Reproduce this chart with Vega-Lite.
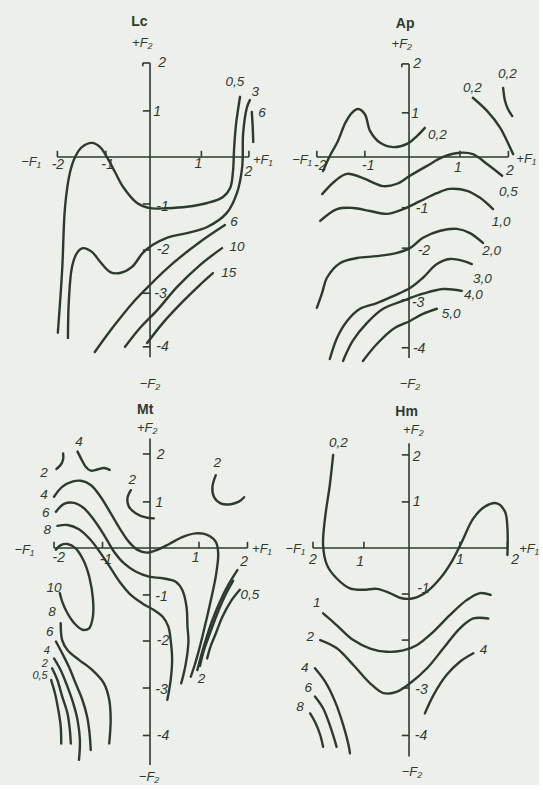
{
"$schema": "https://vega.github.io/schema/vega-lite/v6.json",
"background": "#ecefea",
"padding": 0,
"spacing": 0,
"bounds": "flush",
"config": {"view": {"stroke": null}, "facet": {"spacing": 0}, "header": {"labels": false, "title": null, "labelPadding": 0, "titlePadding": 0}},
"data": {"values": [
{"p":"Lc","k":"l","c":"a","o":1,"x":-1.92,"y":-3.74},
{"p":"Lc","k":"l","c":"a","o":2,"x":-1.83,"y":-2.40},
{"p":"Lc","k":"l","c":"a","o":3,"x":-1.77,"y":-1.06},
{"p":"Lc","k":"l","c":"a","o":4,"x":-1.67,"y":-0.34},
{"p":"Lc","k":"l","c":"a","o":5,"x":-1.56,"y":0},
{"p":"Lc","k":"l","c":"a","o":6,"x":-1.42,"y":0.21},
{"p":"Lc","k":"l","c":"a","o":7,"x":-1.21,"y":0.30},
{"p":"Lc","k":"l","c":"a","o":8,"x":-1.04,"y":0.21},
{"p":"Lc","k":"l","c":"a","o":9,"x":-0.90,"y":0},
{"p":"Lc","k":"l","c":"a","o":10,"x":-0.73,"y":-0.32},
{"p":"Lc","k":"l","c":"a","o":11,"x":-0.56,"y":-0.64},
{"p":"Lc","k":"l","c":"a","o":12,"x":-0.27,"y":-0.98},
{"p":"Lc","k":"l","c":"a","o":13,"x":0,"y":-1.09},
{"p":"Lc","k":"l","c":"a","o":14,"x":0.35,"y":-1.09},
{"p":"Lc","k":"l","c":"a","o":15,"x":0.77,"y":-1.06},
{"p":"Lc","k":"l","c":"a","o":16,"x":1.19,"y":-0.98},
{"p":"Lc","k":"l","c":"a","o":17,"x":1.52,"y":-0.85},
{"p":"Lc","k":"l","c":"a","o":18,"x":1.67,"y":-0.66},
{"p":"Lc","k":"l","c":"a","o":19,"x":1.73,"y":-0.28},
{"p":"Lc","k":"l","c":"a","o":20,"x":1.75,"y":0.15},
{"p":"Lc","k":"l","c":"a","o":21,"x":1.79,"y":0.68},
{"p":"Lc","k":"l","c":"a","o":22,"x":1.875,"y":1.28},
{"p":"Lc","k":"l","c":"b","o":1,"x":-1.71,"y":-3.85},
{"p":"Lc","k":"l","c":"b","o":2,"x":-1.69,"y":-3.04},
{"p":"Lc","k":"l","c":"b","o":3,"x":-1.625,"y":-2.34},
{"p":"Lc","k":"l","c":"b","o":4,"x":-1.52,"y":-2.04},
{"p":"Lc","k":"l","c":"b","o":5,"x":-1.40,"y":-1.94},
{"p":"Lc","k":"l","c":"b","o":6,"x":-1.21,"y":-2.02},
{"p":"Lc","k":"l","c":"b","o":7,"x":-1.04,"y":-2.23},
{"p":"Lc","k":"l","c":"b","o":8,"x":-0.83,"y":-2.45},
{"p":"Lc","k":"l","c":"b","o":9,"x":-0.625,"y":-2.47},
{"p":"Lc","k":"l","c":"b","o":10,"x":-0.375,"y":-2.34},
{"p":"Lc","k":"l","c":"b","o":11,"x":-0.15,"y":-2.04},
{"p":"Lc","k":"l","c":"b","o":12,"x":0.06,"y":-1.87},
{"p":"Lc","k":"l","c":"b","o":13,"x":0.35,"y":-1.72},
{"p":"Lc","k":"l","c":"b","o":14,"x":0.77,"y":-1.62},
{"p":"Lc","k":"l","c":"b","o":15,"x":1.19,"y":-1.49},
{"p":"Lc","k":"l","c":"b","o":16,"x":1.60,"y":-1.19},
{"p":"Lc","k":"l","c":"b","o":17,"x":1.81,"y":-0.77},
{"p":"Lc","k":"l","c":"b","o":18,"x":1.92,"y":-0.21},
{"p":"Lc","k":"l","c":"b","o":19,"x":1.94,"y":0.51},
{"p":"Lc","k":"l","c":"b","o":20,"x":2.02,"y":1.06},
{"p":"Lc","k":"l","c":"b","o":21,"x":2.08,"y":1.21},
{"p":"Lc","k":"l","c":"c","o":1,"x":2.12,"y":0.96},
{"p":"Lc","k":"l","c":"c","o":2,"x":2.14,"y":0.62},
{"p":"Lc","k":"l","c":"c","o":3,"x":2.15,"y":0.32},
{"p":"Lc","k":"l","c":"d","o":1,"x":-1.15,"y":-4.15},
{"p":"Lc","k":"l","c":"d","o":2,"x":-0.77,"y":-3.62},
{"p":"Lc","k":"l","c":"d","o":3,"x":-0.35,"y":-3.09},
{"p":"Lc","k":"l","c":"d","o":4,"x":0,"y":-2.72},
{"p":"Lc","k":"l","c":"d","o":5,"x":0.48,"y":-2.26},
{"p":"Lc","k":"l","c":"d","o":6,"x":1.04,"y":-1.81},
{"p":"Lc","k":"l","c":"d","o":7,"x":1.56,"y":-1.45},
{"p":"Lc","k":"l","c":"e","o":1,"x":-0.52,"y":-4.04},
{"p":"Lc","k":"l","c":"e","o":2,"x":-0.21,"y":-3.64},
{"p":"Lc","k":"l","c":"e","o":3,"x":0.15,"y":-3.26},
{"p":"Lc","k":"l","c":"e","o":4,"x":0.56,"y":-2.77},
{"p":"Lc","k":"l","c":"e","o":5,"x":1.04,"y":-2.30},
{"p":"Lc","k":"l","c":"e","o":6,"x":1.5,"y":-1.94},
{"p":"Lc","k":"l","c":"f","o":1,"x":-0.06,"y":-3.96},
{"p":"Lc","k":"l","c":"f","o":2,"x":0.27,"y":-3.53},
{"p":"Lc","k":"l","c":"f","o":3,"x":0.67,"y":-3.09},
{"p":"Lc","k":"l","c":"f","o":4,"x":1.04,"y":-2.72},
{"p":"Lc","k":"l","c":"f","o":5,"x":1.31,"y":-2.47},

{"p":"Ap","k":"l","c":"a","o":1,"x":-1.79,"y":-0.30},
{"p":"Ap","k":"l","c":"a","o":2,"x":-1.65,"y":0.02},
{"p":"Ap","k":"l","c":"a","o":3,"x":-1.48,"y":0.34},
{"p":"Ap","k":"l","c":"a","o":4,"x":-1.33,"y":0.72},
{"p":"Ap","k":"l","c":"a","o":5,"x":-1.19,"y":0.94},
{"p":"Ap","k":"l","c":"a","o":6,"x":-1.06,"y":1.02},
{"p":"Ap","k":"l","c":"a","o":7,"x":-0.92,"y":0.91},
{"p":"Ap","k":"l","c":"a","o":8,"x":-0.81,"y":0.55},
{"p":"Ap","k":"l","c":"a","o":9,"x":-0.60,"y":0.30},
{"p":"Ap","k":"l","c":"a","o":10,"x":-0.33,"y":0.21},
{"p":"Ap","k":"l","c":"a","o":11,"x":-0.04,"y":0.28},
{"p":"Ap","k":"l","c":"a","o":12,"x":0.17,"y":0.45},
{"p":"Ap","k":"l","c":"a","o":13,"x":0.33,"y":0.62},
{"p":"Ap","k":"l","c":"b","o":1,"x":1.33,"y":1.26},
{"p":"Ap","k":"l","c":"b","o":2,"x":1.625,"y":0.98},
{"p":"Ap","k":"l","c":"b","o":3,"x":1.90,"y":0.62},
{"p":"Ap","k":"l","c":"b","o":4,"x":2.04,"y":0.34},
{"p":"Ap","k":"l","c":"b","o":5,"x":2.17,"y":0.06},
{"p":"Ap","k":"l","c":"c","o":1,"x":1.96,"y":1.47},
{"p":"Ap","k":"l","c":"c","o":2,"x":2.0,"y":1.19},
{"p":"Ap","k":"l","c":"c","o":3,"x":2.06,"y":1.02},
{"p":"Ap","k":"l","c":"c","o":4,"x":2.15,"y":0.87},
{"p":"Ap","k":"l","c":"d","o":1,"x":-1.81,"y":-0.79},
{"p":"Ap","k":"l","c":"d","o":2,"x":-1.54,"y":-0.51},
{"p":"Ap","k":"l","c":"d","o":3,"x":-1.29,"y":-0.36},
{"p":"Ap","k":"l","c":"d","o":4,"x":-0.96,"y":-0.45},
{"p":"Ap","k":"l","c":"d","o":5,"x":-0.54,"y":-0.62},
{"p":"Ap","k":"l","c":"d","o":6,"x":-0.25,"y":-0.57},
{"p":"Ap","k":"l","c":"d","o":7,"x":0.02,"y":-0.40},
{"p":"Ap","k":"l","c":"d","o":8,"x":0.375,"y":-0.19},
{"p":"Ap","k":"l","c":"d","o":9,"x":0.71,"y":0},
{"p":"Ap","k":"l","c":"d","o":10,"x":1.06,"y":0.09},
{"p":"Ap","k":"l","c":"d","o":11,"x":1.33,"y":0.06},
{"p":"Ap","k":"l","c":"d","o":12,"x":1.625,"y":-0.15},
{"p":"Ap","k":"l","c":"d","o":13,"x":1.94,"y":-0.40},
{"p":"Ap","k":"l","c":"e","o":1,"x":-1.85,"y":-1.36},
{"p":"Ap","k":"l","c":"e","o":2,"x":-1.5,"y":-1.11},
{"p":"Ap","k":"l","c":"e","o":3,"x":-1.17,"y":-1.085},
{"p":"Ap","k":"l","c":"e","o":4,"x":-0.81,"y":-1.15},
{"p":"Ap","k":"l","c":"e","o":5,"x":-0.46,"y":-1.21},
{"p":"Ap","k":"l","c":"e","o":6,"x":-0.125,"y":-1.11},
{"p":"Ap","k":"l","c":"e","o":7,"x":0.23,"y":-0.94},
{"p":"Ap","k":"l","c":"e","o":8,"x":0.58,"y":-0.77},
{"p":"Ap","k":"l","c":"e","o":9,"x":0.85,"y":-0.68},
{"p":"Ap","k":"l","c":"e","o":10,"x":1.21,"y":-0.72},
{"p":"Ap","k":"l","c":"e","o":11,"x":1.48,"y":-0.87},
{"p":"Ap","k":"l","c":"e","o":12,"x":1.75,"y":-1.11},
{"p":"Ap","k":"l","c":"f","o":1,"x":-1.92,"y":-3.21},
{"p":"Ap","k":"l","c":"f","o":2,"x":-1.81,"y":-2.89},
{"p":"Ap","k":"l","c":"f","o":3,"x":-1.71,"y":-2.57},
{"p":"Ap","k":"l","c":"f","o":4,"x":-1.44,"y":-2.26},
{"p":"Ap","k":"l","c":"f","o":5,"x":-1.08,"y":-2.15},
{"p":"Ap","k":"l","c":"f","o":6,"x":-0.67,"y":-2.11},
{"p":"Ap","k":"l","c":"f","o":7,"x":-0.25,"y":-2.04},
{"p":"Ap","k":"l","c":"f","o":8,"x":0.02,"y":-1.94},
{"p":"Ap","k":"l","c":"f","o":9,"x":0.29,"y":-1.72},
{"p":"Ap","k":"l","c":"f","o":10,"x":0.65,"y":-1.57},
{"p":"Ap","k":"l","c":"f","o":11,"x":1.0,"y":-1.53},
{"p":"Ap","k":"l","c":"f","o":12,"x":1.27,"y":-1.62},
{"p":"Ap","k":"l","c":"f","o":13,"x":1.54,"y":-1.83},
{"p":"Ap","k":"l","c":"g","o":1,"x":-1.65,"y":-4.30},
{"p":"Ap","k":"l","c":"g","o":2,"x":-1.5,"y":-3.85},
{"p":"Ap","k":"l","c":"g","o":3,"x":-1.29,"y":-3.49},
{"p":"Ap","k":"l","c":"g","o":4,"x":-1.02,"y":-3.23},
{"p":"Ap","k":"l","c":"g","o":5,"x":-0.67,"y":-3.11},
{"p":"Ap","k":"l","c":"g","o":6,"x":-0.33,"y":-2.96},
{"p":"Ap","k":"l","c":"g","o":7,"x":0.02,"y":-2.79},
{"p":"Ap","k":"l","c":"g","o":8,"x":0.29,"y":-2.57},
{"p":"Ap","k":"l","c":"g","o":9,"x":0.58,"y":-2.28},
{"p":"Ap","k":"l","c":"g","o":10,"x":0.85,"y":-2.17},
{"p":"Ap","k":"l","c":"g","o":11,"x":1.125,"y":-2.21},
{"p":"Ap","k":"l","c":"g","o":12,"x":1.31,"y":-2.28},
{"p":"Ap","k":"l","c":"h","o":1,"x":-1.375,"y":-4.34},
{"p":"Ap","k":"l","c":"h","o":2,"x":-1.17,"y":-3.91},
{"p":"Ap","k":"l","c":"h","o":3,"x":-0.875,"y":-3.53},
{"p":"Ap","k":"l","c":"h","o":4,"x":-0.54,"y":-3.23},
{"p":"Ap","k":"l","c":"h","o":5,"x":-0.125,"y":-3.06},
{"p":"Ap","k":"l","c":"h","o":6,"x":0.29,"y":-2.91},
{"p":"Ap","k":"l","c":"h","o":7,"x":0.71,"y":-2.81},
{"p":"Ap","k":"l","c":"h","o":8,"x":1.10,"y":-2.85},
{"p":"Ap","k":"l","c":"i","o":1,"x":-0.96,"y":-4.34},
{"p":"Ap","k":"l","c":"i","o":2,"x":-0.67,"y":-3.98},
{"p":"Ap","k":"l","c":"i","o":3,"x":-0.33,"y":-3.66},
{"p":"Ap","k":"l","c":"i","o":4,"x":0.02,"y":-3.49},
{"p":"Ap","k":"l","c":"i","o":5,"x":0.29,"y":-3.34},
{"p":"Ap","k":"l","c":"i","o":6,"x":0.58,"y":-3.23},

{"p":"Mt","k":"l","c":"a","o":1,"x":-1.95,"y":1.68},
{"p":"Mt","k":"l","c":"a","o":2,"x":-1.86,"y":1.77},
{"p":"Mt","k":"l","c":"a","o":3,"x":-1.81,"y":1.89},
{"p":"Mt","k":"l","c":"a","o":4,"x":-1.81,"y":2.01},
{"p":"Mt","k":"l","c":"b","o":1,"x":-1.51,"y":2.05},
{"p":"Mt","k":"l","c":"b","o":2,"x":-1.42,"y":1.87},
{"p":"Mt","k":"l","c":"b","o":3,"x":-1.34,"y":1.73},
{"p":"Mt","k":"l","c":"b","o":4,"x":-1.235,"y":1.645},
{"p":"Mt","k":"l","c":"b","o":5,"x":-1.10,"y":1.67},
{"p":"Mt","k":"l","c":"b","o":6,"x":-0.96,"y":1.70},
{"p":"Mt","k":"l","c":"b","o":7,"x":-0.84,"y":1.66},
{"p":"Mt","k":"l","c":"c","o":1,"x":-2.0,"y":1.09},
{"p":"Mt","k":"l","c":"c","o":2,"x":-1.83,"y":1.30},
{"p":"Mt","k":"l","c":"c","o":3,"x":-1.62,"y":1.41},
{"p":"Mt","k":"l","c":"c","o":4,"x":-1.44,"y":1.43},
{"p":"Mt","k":"l","c":"c","o":5,"x":-1.235,"y":1.34},
{"p":"Mt","k":"l","c":"c","o":6,"x":-1.03,"y":1.09},
{"p":"Mt","k":"l","c":"c","o":7,"x":-0.82,"y":0.74},
{"p":"Mt","k":"l","c":"c","o":8,"x":-0.61,"y":0.38},
{"p":"Mt","k":"l","c":"c","o":9,"x":-0.44,"y":0.13},
{"p":"Mt","k":"l","c":"c","o":10,"x":-0.26,"y":-0.04},
{"p":"Mt","k":"l","c":"c","o":11,"x":-0.06,"y":-0.10},
{"p":"Mt","k":"l","c":"c","o":12,"x":0.15,"y":-0.04},
{"p":"Mt","k":"l","c":"c","o":13,"x":0.40,"y":0.085},
{"p":"Mt","k":"l","c":"c","o":14,"x":0.67,"y":0.23},
{"p":"Mt","k":"l","c":"c","o":15,"x":0.95,"y":0.31},
{"p":"Mt","k":"l","c":"c","o":16,"x":1.19,"y":0.28},
{"p":"Mt","k":"l","c":"c","o":17,"x":1.37,"y":0.13},
{"p":"Mt","k":"l","c":"c","o":18,"x":1.42,"y":-0.11},
{"p":"Mt","k":"l","c":"c","o":19,"x":1.38,"y":-0.54},
{"p":"Mt","k":"l","c":"c","o":20,"x":1.30,"y":-0.96},
{"p":"Mt","k":"l","c":"c","o":21,"x":1.19,"y":-1.46},
{"p":"Mt","k":"l","c":"c","o":22,"x":1.09,"y":-1.89},
{"p":"Mt","k":"l","c":"c","o":23,"x":1.01,"y":-2.21},
{"p":"Mt","k":"l","c":"c","o":24,"x":0.93,"y":-2.49},
{"p":"Mt","k":"l","c":"c","o":25,"x":0.85,"y":-2.74},
{"p":"Mt","k":"l","c":"d","o":1,"x":-1.96,"y":0.77},
{"p":"Mt","k":"l","c":"d","o":2,"x":-1.79,"y":0.94},
{"p":"Mt","k":"l","c":"d","o":3,"x":-1.58,"y":0.96},
{"p":"Mt","k":"l","c":"d","o":4,"x":-1.375,"y":0.845},
{"p":"Mt","k":"l","c":"d","o":5,"x":-1.17,"y":0.60},
{"p":"Mt","k":"l","c":"d","o":6,"x":-0.96,"y":0.28},
{"p":"Mt","k":"l","c":"d","o":7,"x":-0.75,"y":-0.08},
{"p":"Mt","k":"l","c":"d","o":8,"x":-0.54,"y":-0.33},
{"p":"Mt","k":"l","c":"d","o":9,"x":-0.30,"y":-0.50},
{"p":"Mt","k":"l","c":"d","o":10,"x":-0.02,"y":-0.61},
{"p":"Mt","k":"l","c":"d","o":11,"x":0.26,"y":-0.645},
{"p":"Mt","k":"l","c":"d","o":12,"x":0.535,"y":-0.72},
{"p":"Mt","k":"l","c":"d","o":13,"x":0.67,"y":-0.89},
{"p":"Mt","k":"l","c":"d","o":14,"x":0.76,"y":-1.25},
{"p":"Mt","k":"l","c":"d","o":15,"x":0.78,"y":-1.67},
{"p":"Mt","k":"l","c":"d","o":16,"x":0.80,"y":-1.99},
{"p":"Mt","k":"l","c":"d","o":17,"x":0.74,"y":-2.49},
{"p":"Mt","k":"l","c":"d","o":18,"x":0.65,"y":-2.88},
{"p":"Mt","k":"l","c":"e","o":1,"x":-1.93,"y":0.47},
{"p":"Mt","k":"l","c":"e","o":2,"x":-1.72,"y":0.49},
{"p":"Mt","k":"l","c":"e","o":3,"x":-1.48,"y":0.40},
{"p":"Mt","k":"l","c":"e","o":4,"x":-1.235,"y":0.17},
{"p":"Mt","k":"l","c":"e","o":5,"x":-1.03,"y":-0.11},
{"p":"Mt","k":"l","c":"e","o":6,"x":-0.82,"y":-0.43},
{"p":"Mt","k":"l","c":"e","o":7,"x":-0.61,"y":-0.75},
{"p":"Mt","k":"l","c":"e","o":8,"x":-0.40,"y":-1.0},
{"p":"Mt","k":"l","c":"e","o":9,"x":-0.16,"y":-1.18},
{"p":"Mt","k":"l","c":"e","o":10,"x":0.08,"y":-1.32},
{"p":"Mt","k":"l","c":"e","o":11,"x":0.26,"y":-1.46},
{"p":"Mt","k":"l","c":"e","o":12,"x":0.38,"y":-1.67},
{"p":"Mt","k":"l","c":"e","o":13,"x":0.43,"y":-1.96},
{"p":"Mt","k":"l","c":"e","o":14,"x":0.46,"y":-2.38},
{"p":"Mt","k":"l","c":"e","o":15,"x":0.43,"y":-2.81},
{"p":"Mt","k":"l","c":"e","o":16,"x":0.36,"y":-3.23},
{"p":"Mt","k":"l","c":"f","o":1,"x":-1.96,"y":-0.04},
{"p":"Mt","k":"l","c":"f","o":2,"x":-1.86,"y":0.06},
{"p":"Mt","k":"l","c":"f","o":3,"x":-1.72,"y":0.085},
{"p":"Mt","k":"l","c":"f","o":4,"x":-1.55,"y":-0.01},
{"p":"Mt","k":"l","c":"f","o":5,"x":-1.375,"y":-0.29},
{"p":"Mt","k":"l","c":"f","o":6,"x":-1.26,"y":-0.64},
{"p":"Mt","k":"l","c":"f","o":7,"x":-1.19,"y":-1.07},
{"p":"Mt","k":"l","c":"f","o":8,"x":-1.19,"y":-1.46},
{"p":"Mt","k":"l","c":"f","o":9,"x":-1.27,"y":-1.71},
{"p":"Mt","k":"l","c":"f","o":10,"x":-1.41,"y":-1.74},
{"p":"Mt","k":"l","c":"f","o":11,"x":-1.58,"y":-1.60},
{"p":"Mt","k":"l","c":"f","o":12,"x":-1.72,"y":-1.39},
{"p":"Mt","k":"l","c":"f","o":13,"x":-1.83,"y":-1.14},
{"p":"Mt","k":"l","c":"f","o":14,"x":-1.88,"y":-0.96},
{"p":"Mt","k":"l","c":"g","o":1,"x":-0.40,"y":1.23},
{"p":"Mt","k":"l","c":"g","o":2,"x":-0.47,"y":1.06},
{"p":"Mt","k":"l","c":"g","o":3,"x":-0.44,"y":0.88},
{"p":"Mt","k":"l","c":"g","o":4,"x":-0.30,"y":0.74},
{"p":"Mt","k":"l","c":"g","o":5,"x":-0.09,"y":0.65},
{"p":"Mt","k":"l","c":"g","o":6,"x":0.08,"y":0.63},
{"p":"Mt","k":"l","c":"h","o":1,"x":1.37,"y":1.55},
{"p":"Mt","k":"l","c":"h","o":2,"x":1.30,"y":1.30},
{"p":"Mt","k":"l","c":"h","o":3,"x":1.33,"y":1.09},
{"p":"Mt","k":"l","c":"h","o":4,"x":1.47,"y":0.95},
{"p":"Mt","k":"l","c":"h","o":5,"x":1.68,"y":0.93},
{"p":"Mt","k":"l","c":"h","o":6,"x":1.85,"y":0.985},
{"p":"Mt","k":"l","c":"h","o":7,"x":1.96,"y":1.08},
{"p":"Mt","k":"l","c":"i","o":1,"x":1.82,"y":-0.47},
{"p":"Mt","k":"l","c":"i","o":2,"x":1.65,"y":-0.75},
{"p":"Mt","k":"l","c":"i","o":3,"x":1.47,"y":-1.11},
{"p":"Mt","k":"l","c":"i","o":4,"x":1.30,"y":-1.53},
{"p":"Mt","k":"l","c":"i","o":5,"x":1.16,"y":-1.96},
{"p":"Mt","k":"l","c":"i","o":6,"x":1.06,"y":-2.31},
{"p":"Mt","k":"l","c":"i","o":7,"x":0.985,"y":-2.60},
{"p":"Mt","k":"l","c":"j","o":1,"x":1.73,"y":-0.70},
{"p":"Mt","k":"l","c":"j","o":2,"x":1.56,"y":-1.02},
{"p":"Mt","k":"l","c":"j","o":3,"x":1.40,"y":-1.40},
{"p":"Mt","k":"l","c":"j","o":4,"x":1.25,"y":-1.81},
{"p":"Mt","k":"l","c":"j","o":5,"x":1.125,"y":-2.17},
{"p":"Mt","k":"l","c":"j","o":6,"x":1.04,"y":-2.51},
{"p":"Mt","k":"l","c":"k","o":1,"x":1.87,"y":-0.89},
{"p":"Mt","k":"l","c":"k","o":2,"x":1.68,"y":-1.14},
{"p":"Mt","k":"l","c":"k","o":3,"x":1.51,"y":-1.46},
{"p":"Mt","k":"l","c":"k","o":4,"x":1.37,"y":-1.82},
{"p":"Mt","k":"l","c":"k","o":5,"x":1.26,"y":-2.10},
{"p":"Mt","k":"l","c":"k","o":6,"x":1.19,"y":-2.35},
{"p":"Mt","k":"l","c":"m","o":1,"x":-1.86,"y":-1.60},
{"p":"Mt","k":"l","c":"m","o":2,"x":-1.83,"y":-1.96},
{"p":"Mt","k":"l","c":"m","o":3,"x":-1.72,"y":-2.17},
{"p":"Mt","k":"l","c":"m","o":4,"x":-1.48,"y":-2.38},
{"p":"Mt","k":"l","c":"m","o":5,"x":-1.20,"y":-2.60},
{"p":"Mt","k":"l","c":"m","o":6,"x":-0.96,"y":-2.88},
{"p":"Mt","k":"l","c":"m","o":7,"x":-0.85,"y":-3.23},
{"p":"Mt","k":"l","c":"m","o":8,"x":-0.82,"y":-3.66},
{"p":"Mt","k":"l","c":"m","o":9,"x":-0.85,"y":-4.16},
{"p":"Mt","k":"l","c":"n","o":1,"x":-1.96,"y":-1.99},
{"p":"Mt","k":"l","c":"n","o":2,"x":-1.83,"y":-2.24},
{"p":"Mt","k":"l","c":"n","o":3,"x":-1.69,"y":-2.53},
{"p":"Mt","k":"l","c":"n","o":4,"x":-1.55,"y":-2.88},
{"p":"Mt","k":"l","c":"n","o":5,"x":-1.41,"y":-3.23},
{"p":"Mt","k":"l","c":"n","o":6,"x":-1.31,"y":-3.59},
{"p":"Mt","k":"l","c":"n","o":7,"x":-1.26,"y":-3.94},
{"p":"Mt","k":"l","c":"n","o":8,"x":-1.235,"y":-4.30},
{"p":"Mt","k":"l","c":"q","o":1,"x":-2.0,"y":-2.35},
{"p":"Mt","k":"l","c":"q","o":2,"x":-1.86,"y":-2.60},
{"p":"Mt","k":"l","c":"q","o":3,"x":-1.72,"y":-2.95},
{"p":"Mt","k":"l","c":"q","o":4,"x":-1.60,"y":-3.30},
{"p":"Mt","k":"l","c":"q","o":5,"x":-1.51,"y":-3.66},
{"p":"Mt","k":"l","c":"q","o":6,"x":-1.46,"y":-4.09},
{"p":"Mt","k":"l","c":"q","o":7,"x":-1.48,"y":-4.51},
{"p":"Mt","k":"l","c":"r","o":1,"x":-2.04,"y":-2.56},
{"p":"Mt","k":"l","c":"r","o":2,"x":-1.93,"y":-2.81},
{"p":"Mt","k":"l","c":"r","o":3,"x":-1.83,"y":-3.16},
{"p":"Mt","k":"l","c":"r","o":4,"x":-1.72,"y":-3.52},
{"p":"Mt","k":"l","c":"r","o":5,"x":-1.67,"y":-3.87},
{"p":"Mt","k":"l","c":"r","o":6,"x":-1.65,"y":-4.16},
{"p":"Mt","k":"l","c":"s","o":1,"x":-2.06,"y":-2.81},
{"p":"Mt","k":"l","c":"s","o":2,"x":-1.98,"y":-3.09},
{"p":"Mt","k":"l","c":"s","o":3,"x":-1.91,"y":-3.45},
{"p":"Mt","k":"l","c":"s","o":4,"x":-1.86,"y":-3.80},
{"p":"Mt","k":"l","c":"s","o":5,"x":-1.85,"y":-4.16},

{"p":"Hm","k":"l","c":"a","o":1,"x":-1.58,"y":1.98},
{"p":"Hm","k":"l","c":"a","o":2,"x":-1.65,"y":1.34},
{"p":"Hm","k":"l","c":"a","o":3,"x":-1.75,"y":0.63},
{"p":"Hm","k":"l","c":"a","o":4,"x":-1.79,"y":0.06},
{"p":"Hm","k":"l","c":"a","o":5,"x":-1.71,"y":-0.36},
{"p":"Hm","k":"l","c":"a","o":6,"x":-1.51,"y":-0.645},
{"p":"Hm","k":"l","c":"a","o":7,"x":-1.23,"y":-0.86},
{"p":"Hm","k":"l","c":"a","o":8,"x":-0.95,"y":-0.89},
{"p":"Hm","k":"l","c":"a","o":9,"x":-0.67,"y":-0.87},
{"p":"Hm","k":"l","c":"a","o":10,"x":-0.40,"y":-0.96},
{"p":"Hm","k":"l","c":"a","o":11,"x":-0.15,"y":-1.07},
{"p":"Hm","k":"l","c":"a","o":12,"x":0.09,"y":-1.07},
{"p":"Hm","k":"l","c":"a","o":13,"x":0.37,"y":-0.93},
{"p":"Hm","k":"l","c":"a","o":14,"x":0.65,"y":-0.645},
{"p":"Hm","k":"l","c":"a","o":15,"x":0.89,"y":-0.29},
{"p":"Hm","k":"l","c":"a","o":16,"x":1.10,"y":0.13},
{"p":"Hm","k":"l","c":"a","o":17,"x":1.34,"y":0.63},
{"p":"Hm","k":"l","c":"a","o":18,"x":1.58,"y":0.88},
{"p":"Hm","k":"l","c":"a","o":19,"x":1.83,"y":0.95},
{"p":"Hm","k":"l","c":"a","o":20,"x":2.0,"y":0.77},
{"p":"Hm","k":"l","c":"a","o":21,"x":2.05,"y":0.42},
{"p":"Hm","k":"l","c":"a","o":22,"x":2.05,"y":-0.15},
{"p":"Hm","k":"l","c":"b","o":1,"x":-1.79,"y":-1.39},
{"p":"Hm","k":"l","c":"b","o":2,"x":-1.51,"y":-1.64},
{"p":"Hm","k":"l","c":"b","o":3,"x":-1.16,"y":-1.96},
{"p":"Hm","k":"l","c":"b","o":4,"x":-0.81,"y":-2.14},
{"p":"Hm","k":"l","c":"b","o":5,"x":-0.465,"y":-2.21},
{"p":"Hm","k":"l","c":"b","o":6,"x":-0.12,"y":-2.18},
{"p":"Hm","k":"l","c":"b","o":7,"x":0.16,"y":-2.07},
{"p":"Hm","k":"l","c":"b","o":8,"x":0.51,"y":-1.78},
{"p":"Hm","k":"l","c":"b","o":9,"x":0.85,"y":-1.43},
{"p":"Hm","k":"l","c":"b","o":10,"x":1.20,"y":-1.11},
{"p":"Hm","k":"l","c":"b","o":11,"x":1.48,"y":-0.96},
{"p":"Hm","k":"l","c":"b","o":12,"x":1.70,"y":-1.0},
{"p":"Hm","k":"l","c":"c","o":1,"x":-1.85,"y":-1.96},
{"p":"Hm","k":"l","c":"c","o":2,"x":-1.51,"y":-2.13},
{"p":"Hm","k":"l","c":"c","o":3,"x":-1.16,"y":-2.49},
{"p":"Hm","k":"l","c":"c","o":4,"x":-0.81,"y":-2.88},
{"p":"Hm","k":"l","c":"c","o":5,"x":-0.53,"y":-3.09},
{"p":"Hm","k":"l","c":"c","o":6,"x":-0.26,"y":-3.06},
{"p":"Hm","k":"l","c":"c","o":7,"x":0.02,"y":-2.88},
{"p":"Hm","k":"l","c":"c","o":8,"x":0.375,"y":-2.56},
{"p":"Hm","k":"l","c":"c","o":9,"x":0.72,"y":-2.13},
{"p":"Hm","k":"l","c":"c","o":10,"x":1.06,"y":-1.71},
{"p":"Hm","k":"l","c":"c","o":11,"x":1.34,"y":-1.50},
{"p":"Hm","k":"l","c":"c","o":12,"x":1.65,"y":-1.50},
{"p":"Hm","k":"l","c":"d","o":1,"x":0.33,"y":-3.52},
{"p":"Hm","k":"l","c":"d","o":2,"x":0.51,"y":-3.13},
{"p":"Hm","k":"l","c":"d","o":3,"x":0.785,"y":-2.70},
{"p":"Hm","k":"l","c":"d","o":4,"x":1.06,"y":-2.42},
{"p":"Hm","k":"l","c":"d","o":5,"x":1.34,"y":-2.24},
{"p":"Hm","k":"l","c":"e","o":1,"x":-1.96,"y":-2.56},
{"p":"Hm","k":"l","c":"e","o":2,"x":-1.75,"y":-2.84},
{"p":"Hm","k":"l","c":"e","o":3,"x":-1.54,"y":-3.27},
{"p":"Hm","k":"l","c":"e","o":4,"x":-1.37,"y":-3.77},
{"p":"Hm","k":"l","c":"e","o":5,"x":-1.26,"y":-4.19},
{"p":"Hm","k":"l","c":"e","o":6,"x":-1.23,"y":-4.37},
{"p":"Hm","k":"l","c":"f","o":1,"x":-1.96,"y":-3.16},
{"p":"Hm","k":"l","c":"f","o":2,"x":-1.79,"y":-3.41},
{"p":"Hm","k":"l","c":"f","o":3,"x":-1.65,"y":-3.77},
{"p":"Hm","k":"l","c":"f","o":4,"x":-1.54,"y":-4.12},
{"p":"Hm","k":"l","c":"f","o":5,"x":-1.51,"y":-4.23},
{"p":"Hm","k":"l","c":"g","o":1,"x":-2.06,"y":-3.52},
{"p":"Hm","k":"l","c":"g","o":2,"x":-1.96,"y":-3.70},
{"p":"Hm","k":"l","c":"g","o":3,"x":-1.85,"y":-3.98},
{"p":"Hm","k":"l","c":"g","o":4,"x":-1.79,"y":-4.23},

{"p":"Lc","k":"r","x":-1.93,"x2":2.06,"y":0,"y2":0},
{"p":"Lc","k":"r","x":-1.93,"x2":-1.93,"y":0,"y2":0.13},
{"p":"Lc","k":"r","x":-0.92,"x2":-0.92,"y":0,"y2":0.13},
{"p":"Lc","k":"r","x":1.07,"x2":1.07,"y":0,"y2":0.13},
{"p":"Lc","k":"r","x":2.06,"x2":2.06,"y":0,"y2":0.13},
{"p":"Lc","k":"r","x":0,"x2":0,"y":2,"y2":-4.26},
{"p":"Lc","k":"r","x":-0.15,"x2":0,"y":2,"y2":2},
{"p":"Lc","k":"r","x":-0.15,"x2":-0.15,"y":2,"y2":1.93},
{"p":"Lc","k":"r","x":-0.15,"x2":0,"y":0.98,"y2":0.98},
{"p":"Lc","k":"r","x":-0.15,"x2":0,"y":-1,"y2":-1},
{"p":"Lc","k":"r","x":-0.15,"x2":0,"y":-1.98,"y2":-1.98},
{"p":"Lc","k":"r","x":-0.15,"x2":0,"y":-2.9,"y2":-2.9},
{"p":"Lc","k":"r","x":-0.15,"x2":0,"y":-4.04,"y2":-4.04},
{"p":"Ap","k":"r","x":-1.92,"x2":2.07,"y":0,"y2":0},
{"p":"Ap","k":"r","x":-1.92,"x2":-1.92,"y":0,"y2":0.13},
{"p":"Ap","k":"r","x":-0.92,"x2":-0.92,"y":0,"y2":0.13},
{"p":"Ap","k":"r","x":1.06,"x2":1.06,"y":0,"y2":0.13},
{"p":"Ap","k":"r","x":2.07,"x2":2.07,"y":0,"y2":0.13},
{"p":"Ap","k":"r","x":0,"x2":0,"y":1.98,"y2":-4.28},
{"p":"Ap","k":"r","x":-0.15,"x2":0,"y":1.98,"y2":1.98},
{"p":"Ap","k":"r","x":-0.15,"x2":-0.15,"y":1.98,"y2":1.91},
{"p":"Ap","k":"r","x":-0.15,"x2":0,"y":0.94,"y2":0.94},
{"p":"Ap","k":"r","x":-0.15,"x2":0,"y":-1.08,"y2":-1.08},
{"p":"Ap","k":"r","x":-0.15,"x2":0,"y":-1.94,"y2":-1.94},
{"p":"Ap","k":"r","x":-0.15,"x2":0,"y":-3.04,"y2":-3.04},
{"p":"Ap","k":"r","x":-0.15,"x2":0,"y":-4.06,"y2":-4.06},
{"p":"Mt","k":"r","x":-2.0,"x2":2.03,"y":0,"y2":0},
{"p":"Mt","k":"r","x":-2.0,"x2":-2.0,"y":0,"y2":0.13},
{"p":"Mt","k":"r","x":-0.99,"x2":-0.99,"y":0,"y2":0.13},
{"p":"Mt","k":"r","x":1.02,"x2":1.02,"y":0,"y2":0.13},
{"p":"Mt","k":"r","x":2.03,"x2":2.03,"y":0,"y2":0.13},
{"p":"Mt","k":"r","x":0,"x2":0,"y":2.33,"y2":-4.62},
{"p":"Mt","k":"r","x":-0.15,"x2":0,"y":2.0,"y2":2.0},
{"p":"Mt","k":"r","x":-0.15,"x2":0,"y":0.98,"y2":0.98},
{"p":"Mt","k":"r","x":-0.15,"x2":0,"y":-1.0,"y2":-1.0},
{"p":"Mt","k":"r","x":-0.15,"x2":0,"y":-1.98,"y2":-1.98},
{"p":"Mt","k":"r","x":-0.15,"x2":0,"y":-2.98,"y2":-2.98},
{"p":"Mt","k":"r","x":-0.15,"x2":0,"y":-3.99,"y2":-3.99},
{"p":"Hm","k":"r","x":-2.0,"x2":2.05,"y":0,"y2":0},
{"p":"Hm","k":"r","x":-2.0,"x2":-2.0,"y":0,"y2":0.13},
{"p":"Hm","k":"r","x":-0.94,"x2":-0.94,"y":0,"y2":0.13},
{"p":"Hm","k":"r","x":1.06,"x2":1.06,"y":0,"y2":0.13},
{"p":"Hm","k":"r","x":2.05,"x2":2.05,"y":0,"y2":0.13},
{"p":"Hm","k":"r","x":0,"x2":0,"y":2.23,"y2":-4.44},
{"p":"Hm","k":"r","x":-0.15,"x2":0,"y":1.98,"y2":1.98},
{"p":"Hm","k":"r","x":-0.15,"x2":0,"y":0.98,"y2":0.98},
{"p":"Hm","k":"r","x":-0.15,"x2":0,"y":-0.98,"y2":-0.98},
{"p":"Hm","k":"r","x":-0.15,"x2":0,"y":-1.96,"y2":-1.96},
{"p":"Hm","k":"r","x":-0.15,"x2":0,"y":-2.98,"y2":-2.98},
{"p":"Hm","k":"r","x":-0.15,"x2":0,"y":-3.99,"y2":-3.99},

{"p":"Lc","k":"ti","x":-0.22,"y":2.87,"t":"Lc"},
{"p":"Ap","k":"ti","x":-0.08,"y":2.83,"t":"Ap"},
{"p":"Mt","k":"ti","x":-0.1,"y":2.94,"t":"Mt"},
{"p":"Hm","k":"ti","x":-0.05,"y":2.90,"t":"Hm"},
{"p":"Lc","k":"ax","x":-0.16,"y":2.42,"t":"+F₂"},
{"p":"Lc","k":"ax","x":0,"y":-4.83,"t":"−F₂"},
{"p":"Lc","k":"ax","x":-2.48,"y":-0.11,"t":"−F₁"},
{"p":"Lc","k":"ax","x":2.35,"y":-0.06,"t":"+F₁"},
{"p":"Ap","k":"ax","x":-0.15,"y":2.40,"t":"+F₂"},
{"p":"Ap","k":"ax","x":0.02,"y":-4.83,"t":"−F₂"},
{"p":"Ap","k":"ax","x":-2.23,"y":-0.06,"t":"−F₁"},
{"p":"Ap","k":"ax","x":2.44,"y":-0.04,"t":"+F₁"},
{"p":"Mt","k":"ax","x":-0.06,"y":2.55,"t":"+F₂"},
{"p":"Mt","k":"ax","x":-0.02,"y":-4.88,"t":"−F₂"},
{"p":"Mt","k":"ax","x":-2.62,"y":-0.04,"t":"−F₁"},
{"p":"Mt","k":"ax","x":2.33,"y":-0.02,"t":"+F₁"},
{"p":"Hm","k":"ax","x":0.09,"y":2.51,"t":"+F₂"},
{"p":"Hm","k":"ax","x":0.06,"y":-4.76,"t":"−F₂"},
{"p":"Hm","k":"ax","x":-2.37,"y":-0.02,"t":"−F₁"},
{"p":"Hm","k":"ax","x":2.5,"y":-0.02,"t":"+F₁"},

{"p":"Lc","k":"tk","x":-1.92,"y":-0.17,"t":"-2"},
{"p":"Lc","k":"tk","x":-0.885,"y":-0.17,"t":"-1"},
{"p":"Lc","k":"tk","x":1.01,"y":-0.14,"t":"1"},
{"p":"Lc","k":"tk","x":2.05,"y":-0.32,"t":"2"},
{"p":"Lc","k":"tk","x":0.25,"y":2.0,"t":"2"},
{"p":"Lc","k":"tk","x":0.15,"y":0.96,"t":"1"},
{"p":"Lc","k":"tk","x":0.26,"y":-1.06,"t":"-1"},
{"p":"Lc","k":"tk","x":0.27,"y":-1.98,"t":"-2"},
{"p":"Lc","k":"tk","x":0.22,"y":-2.91,"t":"-3"},
{"p":"Lc","k":"tk","x":0.26,"y":-4.04,"t":"-4"},
{"p":"Ap","k":"tk","x":-1.85,"y":-0.19,"t":"-2"},
{"p":"Ap","k":"tk","x":-0.85,"y":-0.19,"t":"-1"},
{"p":"Ap","k":"tk","x":1.02,"y":-0.23,"t":"1"},
{"p":"Ap","k":"tk","x":2.1,"y":-0.3,"t":"2"},
{"p":"Ap","k":"tk","x":0.17,"y":1.98,"t":"2"},
{"p":"Ap","k":"tk","x":0.13,"y":0.91,"t":"1"},
{"p":"Ap","k":"tk","x":0.27,"y":-1.11,"t":"-1"},
{"p":"Ap","k":"tk","x":0.31,"y":-2.0,"t":"-2"},
{"p":"Ap","k":"tk","x":0.19,"y":-3.1,"t":"-3"},
{"p":"Ap","k":"tk","x":0.21,"y":-4.09,"t":"-4"},
{"p":"Mt","k":"tk","x":-1.90,"y":-0.22,"t":"-2"},
{"p":"Mt","k":"tk","x":-0.92,"y":-0.26,"t":"-1"},
{"p":"Mt","k":"tk","x":0.95,"y":-0.22,"t":"1"},
{"p":"Mt","k":"tk","x":1.96,"y":-0.29,"t":"2"},
{"p":"Mt","k":"tk","x":0.22,"y":1.98,"t":"2"},
{"p":"Mt","k":"tk","x":0.19,"y":0.95,"t":"1"},
{"p":"Mt","k":"tk","x":0.24,"y":-1.04,"t":"-1"},
{"p":"Mt","k":"tk","x":0.27,"y":-1.99,"t":"-2"},
{"p":"Mt","k":"tk","x":0.24,"y":-3.02,"t":"-3"},
{"p":"Mt","k":"tk","x":0.27,"y":-4.01,"t":"-4"},
{"p":"Hm","k":"tk","x":-2.0,"y":-0.26,"t":"2"},
{"p":"Hm","k":"tk","x":-1.02,"y":-0.29,"t":"1"},
{"p":"Hm","k":"tk","x":1.06,"y":-0.26,"t":"1"},
{"p":"Hm","k":"tk","x":2.21,"y":-0.26,"t":"2"},
{"p":"Hm","k":"tk","x":0.16,"y":1.94,"t":"2"},
{"p":"Hm","k":"tk","x":0.16,"y":0.985,"t":"1"},
{"p":"Hm","k":"tk","x":0.3,"y":-0.88,"t":"-1"},
{"p":"Hm","k":"tk","x":0.26,"y":-3.02,"t":"-3"},
{"p":"Hm","k":"tk","x":0.25,"y":-4.01,"t":"-4"},

{"p":"Lc","k":"cl","x":1.77,"y":1.6,"t":"0,5"},
{"p":"Lc","k":"cl","x":2.19,"y":1.38,"t":"3"},
{"p":"Lc","k":"cl","x":2.33,"y":0.94,"t":"6"},
{"p":"Lc","k":"cl","x":1.75,"y":-1.38,"t":"6"},
{"p":"Lc","k":"cl","x":1.81,"y":-1.91,"t":"10"},
{"p":"Lc","k":"cl","x":1.64,"y":-2.47,"t":"15"},
{"p":"Ap","k":"cl","x":0.59,"y":0.47,"t":"0,2"},
{"p":"Ap","k":"cl","x":1.32,"y":1.47,"t":"0,2"},
{"p":"Ap","k":"cl","x":2.05,"y":1.77,"t":"0,2"},
{"p":"Ap","k":"cl","x":2.07,"y":-0.74,"t":"0,5"},
{"p":"Ap","k":"cl","x":1.92,"y":-1.38,"t":"1,0"},
{"p":"Ap","k":"cl","x":1.72,"y":-2.0,"t":"2,0"},
{"p":"Ap","k":"cl","x":1.53,"y":-2.6,"t":"3,0"},
{"p":"Ap","k":"cl","x":1.34,"y":-2.94,"t":"4,0"},
{"p":"Ap","k":"cl","x":0.875,"y":-3.34,"t":"5,0"},
{"p":"Mt","k":"cl","x":-2.21,"y":1.59,"t":"2"},
{"p":"Mt","k":"cl","x":-1.48,"y":2.26,"t":"4"},
{"p":"Mt","k":"cl","x":-2.21,"y":1.13,"t":"4"},
{"p":"Mt","k":"cl","x":-2.17,"y":0.74,"t":"6"},
{"p":"Mt","k":"cl","x":-2.14,"y":0.38,"t":"8"},
{"p":"Mt","k":"cl","x":-0.37,"y":1.45,"t":"2"},
{"p":"Mt","k":"cl","x":1.40,"y":1.80,"t":"2"},
{"p":"Mt","k":"cl","x":-2.0,"y":-0.86,"t":"10"},
{"p":"Mt","k":"cl","x":2.08,"y":-1.0,"t":"0,5"},
{"p":"Mt","k":"cl","x":1.07,"y":-2.78,"t":"2"},
{"p":"Mt","k":"cl","x":-2.04,"y":-1.36,"t":"8"},
{"p":"Mt","k":"cl","x":-2.09,"y":-1.78,"t":"6"},
{"p":"Mt","k":"cs","x":-2.15,"y":-2.20,"t":"4"},
{"p":"Mt","k":"cs","x":-2.19,"y":-2.46,"t":"2"},
{"p":"Mt","k":"cs","x":-2.29,"y":-2.72,"t":"0,5"},
{"p":"Hm","k":"cl","x":-1.47,"y":2.23,"t":"0,2"},
{"p":"Hm","k":"cl","x":-1.92,"y":-1.18,"t":"1"},
{"p":"Hm","k":"cl","x":-2.06,"y":-1.89,"t":"2"},
{"p":"Hm","k":"cl","x":1.55,"y":-2.17,"t":"4"},
{"p":"Hm","k":"cl","x":-2.17,"y":-2.56,"t":"4"},
{"p":"Hm","k":"cl","x":-2.10,"y":-2.99,"t":"6"},
{"p":"Hm","k":"cl","x":-2.27,"y":-3.38,"t":"8"}
]},
"transform": [
  {"lookup": "p", "from": {"data": {"values": [
    {"p": "Lc", "row": 1, "col": 1},
    {"p": "Ap", "row": 1, "col": 2},
    {"p": "Mt", "row": 2, "col": 1},
    {"p": "Hm", "row": 2, "col": 2}
  ]}, "key": "p", "fields": ["row", "col"]}}
],
"facet": {
  "row": {"field": "row", "type": "ordinal", "header": {"labels": false, "title": null, "labelPadding": 0, "titlePadding": 0}},
  "column": {"field": "col", "type": "ordinal", "header": {"labels": false, "title": null, "labelPadding": 0, "titlePadding": 0}}
},
"spec": {
  "width": 259,
  "height": 391,
  "encoding": {
    "x": {"field": "x", "type": "quantitative", "scale": {"domain": [-3.125, 2.27], "nice": false, "zero": false}, "axis": null},
    "y": {"field": "y", "type": "quantitative", "scale": {"domain": [-4.98, 3.34], "nice": false, "zero": false}, "axis": null}
  },
  "layer": [
    {
      "transform": [{"filter": "datum.k === 'l'"}],
      "mark": {"type": "line", "interpolate": "catmull-rom", "color": "#2d3b2f", "strokeWidth": 2.4, "strokeCap": "round", "strokeJoin": "round"},
      "encoding": {"detail": {"field": "c"}, "order": {"field": "o", "type": "quantitative"}}
    },
    {
      "transform": [{"filter": "datum.k === 'r'"}],
      "mark": {"type": "rule", "color": "#2d3b2f", "strokeWidth": 1.6},
      "encoding": {"x2": {"field": "x2"}, "y2": {"field": "y2"}}
    },
    {
      "transform": [{"filter": "datum.k === 'ti'"}],
      "mark": {"type": "text", "font": "Liberation Sans", "fontSize": 14, "fontWeight": "bold", "color": "#2d3b2f", "align": "center", "baseline": "middle"},
      "encoding": {"text": {"field": "t"}}
    },
    {
      "transform": [{"filter": "datum.k === 'ax'"}],
      "mark": {"type": "text", "font": "Liberation Sans", "fontSize": 13, "fontStyle": "italic", "color": "#2d3b2f", "align": "center", "baseline": "middle"},
      "encoding": {"text": {"field": "t"}}
    },
    {
      "transform": [{"filter": "datum.k === 'tk'"}],
      "mark": {"type": "text", "font": "Liberation Sans", "fontSize": 14, "fontStyle": "italic", "color": "#2d3b2f", "align": "center", "baseline": "middle"},
      "encoding": {"text": {"field": "t"}}
    },
    {
      "transform": [{"filter": "datum.k === 'cl'"}],
      "mark": {"type": "text", "font": "Liberation Sans", "fontSize": 13.5, "fontStyle": "italic", "color": "#2d3b2f", "align": "center", "baseline": "middle"},
      "encoding": {"text": {"field": "t"}}
    },
    {
      "transform": [{"filter": "datum.k === 'cs'"}],
      "mark": {"type": "text", "font": "Liberation Sans", "fontSize": 11, "fontStyle": "italic", "color": "#2d3b2f", "align": "center", "baseline": "middle"},
      "encoding": {"text": {"field": "t"}}
    }
  ]
}
}
